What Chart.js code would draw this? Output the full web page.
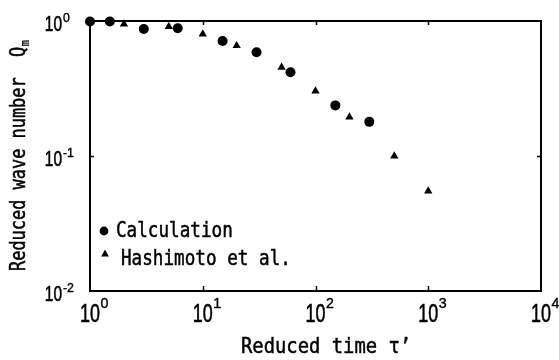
<!DOCTYPE html>
<html><head><meta charset="utf-8">
<script src="https://cdn.jsdelivr.net/npm/chart.js@4"></script>
<style>html,body{margin:0;padding:0;background:#fff}#wrap{width:559px;height:360px}</style>
</head><body><div id="wrap"><canvas id="c" width="559" height="360"></canvas></div>
<script>
// ---- data ----
const calcX = [1, 1.5, 3, 6, 15, 30, 60, 150, 300];
const calcY = [0.99, 0.99, 0.873, 0.883, 0.71, 0.586, 0.417, 0.237, 0.179];
const hashX = [2, 5, 10, 20, 50, 100, 200, 500, 1000];
const hashY = [0.95, 0.908, 0.80, 0.656, 0.454, 0.303, 0.194, 0.10, 0.055];

const xTickValues = [1, 10, 100, 1000, 10000];
const xTickExponents = ['0', '1', '2', '3', '4'];
const yTickValues = [0.01, 0.1, 1];
const yTickExponents = ['-2', '-1', '0'];

const xTitle = 'Reduced time \u03C4\u2019';
const yTitle = 'Reduced wave number  Q';
const yTitleSub = 'm';
const seriesNames = ['Calculation', 'Hashimoto et al.'];

const toPoints = (xs, ys) => xs.map((x, i) => ({x: x, y: ys[i]}));

const MONO = '"DejaVu Sans Mono", "Liberation Mono", monospace';
const SANS = '"Liberation Sans", Arial, sans-serif';

function txt(ctx, s, x, y, font, sx, align, bold) {
  ctx.save();
  ctx.translate(x, y);
  ctx.scale(sx, 1);
  ctx.font = font;
  ctx.textAlign = align || 'left';
  ctx.textBaseline = 'alphabetic';
  ctx.fillText(s, 0, 0);
  if (bold) { ctx.lineWidth = bold; ctx.strokeStyle = '#000'; ctx.strokeText(s, 0, 0); }
  ctx.restore();
}
function txtWidth(ctx, s, font, sx) {
  ctx.save(); ctx.font = font; const w = ctx.measureText(s).width * sx; ctx.restore(); return w;
}

const decor = {
  id: 'decor',
  beforeDatasetsDraw(chart) {
    const {ctx, chartArea: a, scales} = chart;
    ctx.save();
    ctx.strokeStyle = '#000';
    ctx.lineWidth = 2;
    ctx.strokeRect(a.left, a.top, a.right - a.left, a.bottom - a.top);
    ctx.lineWidth = 1.5;
    ctx.beginPath();
    xTickValues.slice(1, -1).forEach(v => {
      const px = Math.round(scales.x.getPixelForValue(v)) + 0.5;
      ctx.moveTo(px, a.bottom); ctx.lineTo(px, a.bottom - 5);
      ctx.moveTo(px, a.top); ctx.lineTo(px, a.top + 4);
    });
    yTickValues.slice(1, -1).forEach(v => {
      const py = Math.round(scales.y.getPixelForValue(v)) + 0.5;
      ctx.moveTo(a.left, py); ctx.lineTo(a.left + 4, py);
      ctx.moveTo(a.right, py); ctx.lineTo(a.right - 4, py);
    });
    ctx.stroke();
    ctx.restore();
  },
  afterDraw(chart) {
    const {ctx, chartArea: a, scales} = chart;
    ctx.save();
    ctx.fillStyle = '#000';
    // x tick labels
    const fx = '26px ' + SANS, fxe = '15px ' + SANS;
    xTickValues.forEach((v, i) => {
      const px = scales.x.getPixelForValue(v);
      const w = txtWidth(ctx, '10', fx, 0.69);
      txt(ctx, '10', px, 322, fx, 0.69, 'center', 0.6);
      txt(ctx, xTickExponents[i], px + w / 2 + 0.5, 308, fxe, 0.95, 'left', 0.4);
    });
    // y tick labels
    const fy = '21.5px ' + SANS, fye = '13px ' + SANS;
    yTickValues.forEach((v, i) => {
      const py = scales.y.getPixelForValue(v);
      txt(ctx, '10', 62, py + 9.5, fy, 0.72, 'right', 0.6);
      txt(ctx, yTickExponents[i], 63, py + 0.5, fye, 0.95, 'left', 0.4);
    });
    // x title
    txt(ctx, xTitle, 241, 353, '22px ' + MONO, 0.856, 'left', 0.5);
    // y title (rotated)
    ctx.save();
    ctx.translate(25, 271);
    ctx.rotate(-Math.PI / 2);
    const fyt = '20.5px ' + MONO;
    txt(ctx, yTitle, 0, 0, fyt, 0.826, 'left', 0.5);
    const wt = txtWidth(ctx, yTitle, fyt, 0.826);
    txt(ctx, yTitleSub, wt + 0.5, 4, '12px ' + MONO, 0.85, 'left', 0.3);
    ctx.restore();
    // legend
    ctx.beginPath();
    ctx.arc(104, 231, 4.4, 0, Math.PI * 2);
    ctx.fill();
    ctx.beginPath();
    ctx.moveTo(105, 249.5); ctx.lineTo(108.8, 256.5); ctx.lineTo(101.2, 256.5); ctx.closePath();
    ctx.fill();
    txt(ctx, seriesNames[0], 116, 237, '21px ' + MONO, 0.84, 'left', 0.5);
    txt(ctx, seriesNames[1], 121, 265, '21px ' + MONO, 0.84, 'left', 0.5);
    ctx.restore();
  }
};

new Chart(document.getElementById('c'), {
  type: 'scatter',
  data: {
    datasets: [
      {label: seriesNames[0], data: toPoints(calcX, calcY), pointStyle: 'circle', pointRadius: 5,
       backgroundColor: '#000', borderColor: '#000', borderWidth: 0, clip: false},
      {label: seriesNames[1], data: toPoints(hashX, hashY), pointStyle: 'triangle', pointRadius: 4.8,
       backgroundColor: '#000', borderColor: '#000', borderWidth: 0, clip: false}
    ]
  },
  options: {
    responsive: false,
    devicePixelRatio: 1,
    animation: false,
    layout: {padding: {left: 90, right: 18, top: 21, bottom: 69}},
    plugins: {legend: {display: false}, tooltip: {enabled: false}},
    scales: {
      x: {type: 'logarithmic', min: 1, max: 10000, display: false},
      y: {type: 'logarithmic', min: 0.01, max: 1, display: false}
    }
  },
  plugins: [decor]
});
</script>
</body></html>
